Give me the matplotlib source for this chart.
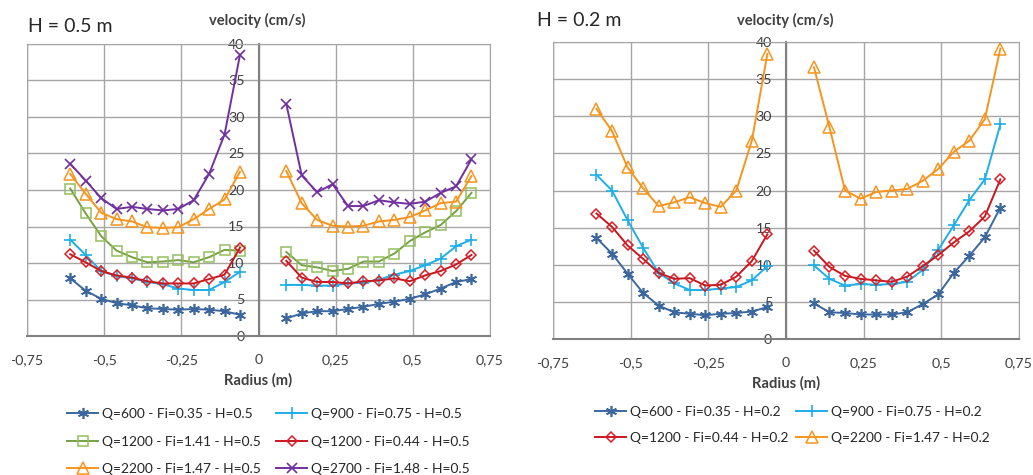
import numpy as np
import matplotlib
matplotlib.use("Agg")
import matplotlib.pyplot as plt
from matplotlib.lines import Line2D

plt.rcParams['font.family'] = ['Lato', 'DejaVu Sans']

# radius positions (m)
r_neg = [-0.61, -0.56, -0.51, -0.46, -0.41, -0.36, -0.31, -0.26, -0.21, -0.16, -0.11, -0.06]
r_pos = [0.09, 0.14, 0.19, 0.24, 0.29, 0.34, 0.39, 0.44, 0.49, 0.54, 0.59, 0.64, 0.69]

# H = 0.5 m, velocity (cm/s)
h05_q600_l = [7.9, 6.2, 5.1, 4.5, 4.2, 3.8, 3.7, 3.6, 3.7, 3.6, 3.4, 2.9]
h05_q600_r = [2.4, 3.1, 3.4, 3.4, 3.7, 4.0, 4.4, 4.7, 5.1, 5.7, 6.5, 7.4, 7.8]
h05_q900_l = [13.2, 11.1, 8.9, 8.2, 7.9, 7.4, 7.1, 6.5, 6.3, 6.3, 7.4, 8.8]
h05_q900_r = [7.0, 7.0, 6.9, 6.9, 7.2, 7.3, 7.7, 8.4, 8.9, 9.7, 10.6, 12.3, 13.2]
h05_q1200a_l = [20.2, 16.8, 13.7, 11.7, 10.8, 10.1, 10.2, 10.4, 10.1, 10.8, 11.8, 11.7]
h05_q1200a_r = [11.5, 9.7, 9.4, 8.9, 9.2, 10.2, 10.2, 11.3, 13.0, 14.2, 15.2, 17.1, 19.6]
h05_q1200b_l = [11.2, 10.1, 8.9, 8.3, 8.0, 7.5, 7.2, 7.2, 7.2, 7.8, 8.4, 12.1]
h05_q1200b_r = [10.3, 8.0, 7.4, 7.4, 7.2, 7.5, 7.6, 7.9, 7.5, 8.3, 8.9, 9.8, 11.1]
h05_q2200_l = [22.2, 19.5, 16.9, 16.0, 15.7, 14.9, 14.8, 14.9, 16.0, 17.4, 18.7, 22.5]
h05_q2200_r = [22.6, 18.2, 15.9, 15.1, 15.0, 15.1, 15.7, 15.9, 16.3, 17.2, 18.2, 18.4, 21.9]
h05_q2700_l = [23.6, 21.3, 18.9, 17.4, 17.7, 17.4, 17.2, 17.4, 18.6, 22.2, 27.6, 38.5]
h05_q2700_r = [31.8, 22.0, 19.7, 20.8, 17.8, 17.8, 18.6, 18.3, 18.1, 18.4, 19.6, 20.5, 24.2]

# H = 0.2 m, velocity (cm/s)
h02_q600_l = [13.6, 11.5, 8.8, 6.2, 4.5, 3.6, 3.4, 3.2, 3.4, 3.5, 3.7, 4.3]
h02_q600_r = [4.8, 3.6, 3.5, 3.3, 3.3, 3.3, 3.6, 4.7, 6.0, 8.9, 11.2, 13.7, 17.7]
h02_q900_l = [22.1, 20.0, 16.0, 12.3, 8.9, 7.5, 6.6, 6.6, 6.8, 7.0, 7.9, 9.8]
h02_q900_r = [9.9, 8.1, 7.2, 7.4, 7.3, 7.4, 7.7, 9.3, 12.0, 15.3, 18.7, 21.5, 28.9]
h02_q1200_l = [16.9, 15.1, 12.6, 10.8, 8.9, 8.1, 8.2, 7.2, 7.3, 8.4, 10.5, 14.1]
h02_q1200_r = [11.9, 9.7, 8.5, 8.1, 7.9, 7.7, 8.4, 9.8, 11.3, 13.0, 14.5, 16.5, 21.5]
h02_q2200_l = [31.0, 28.0, 23.1, 20.3, 17.9, 18.4, 19.1, 18.3, 17.8, 20.0, 26.7, 38.4]
h02_q2200_r = [36.6, 28.5, 20.0, 18.9, 19.8, 20.0, 20.2, 21.3, 22.9, 25.2, 26.7, 29.6, 39.1]

xtick_vals = [-0.75, -0.5, -0.25, 0, 0.25, 0.5, 0.75]
xtick_labels = ["-0,75", "-0,5", "-0,25", "0", "0,25", "0,5", "0,75"]

styles = {
    "q600": dict(color="#3B679E", marker=(6, 2, 0), ms=8, mew=1.2),
    "q900": dict(color="#1FAEE6", marker="+", ms=8, mew=1.2),
    "q1200a": dict(color="#77A043", marker="s", ms=7, mfc="none", mec="#92C05C", mew=1.1),
    "q1200b": dict(color="#C8161E", marker="D", ms=5.5, mfc="none", mec="#D81F27", mew=1.1),
    "q2200": dict(color="#F7941E", marker="^", ms=8, mfc="none", mew=1.1),
    "q2700": dict(color="#7030A0", marker="x", ms=7, mew=1.2),
}

W, H = 1033, 475
fig = plt.figure(figsize=(10.33, 4.75), dpi=100)
renderer = fig.canvas.get_renderer()


def fit_size(s, px, **kw):
    # font size that makes the string about px pixels wide
    t = fig.text(0, 0, s, fontsize=10, **kw)
    w = t.get_window_extent(renderer).width
    t.remove()
    return 10 * px / w


fs_tick = fit_size("-0,75", 33)
fs_leg = fit_size("Q=600 - Fi=0.35 - H=0.5", 150)
fs_title = fit_size("H = 0.5 m", 84)
fs_bold = fit_size("velocity (cm/s)", 97, fontweight="bold")

ax1 = fig.add_axes([27 / W, 1 - 336 / H, 463 / W, 292 / H])
ax2 = fig.add_axes([553 / W, 1 - 339 / H, 466 / W, 297 / H])


def draw(ax, series):
    entries = []
    for key, label, left, right in series:
        st = styles[key]
        ax.plot(r_neg, left, lw=1.4, **st)
        ax.plot(r_pos, right, lw=1.4, **st)
        entries.append((key, label))
    return entries


def setup(ax):
    ax.set_xlim(-0.75, 0.75)
    ax.set_ylim(0, 40)
    ax.set_xticks(xtick_vals)
    ax.set_xticklabels(xtick_labels)
    ax.set_yticks(range(0, 41, 5))
    ax.grid(True, color="#A6A6A6", lw=1.0)
    ax.set_axisbelow(True)
    for s in ax.spines.values():
        s.set_color("#A6A6A6")
    ax.spines['left'].set_position(('data', 0))
    ax.spines['left'].set_color("#808080")
    ax.spines['left'].set_linewidth(1.5)
    ax.spines['bottom'].set_color("#808080")
    ax.spines['bottom'].set_linewidth(1.5)
    ax.tick_params(length=0, labelsize=fs_tick, labelcolor="#404040")
    ax.tick_params(axis='x', pad=13)
    ax.tick_params(axis='y', pad=10)
    ax.set_xlabel("Radius (m)", fontsize=fs_bold, fontweight="bold", color="#404040", labelpad=5)
    ax.axvline(-0.75, color="#A6A6A6", lw=1.0)


e1 = draw(ax1, [
    ("q600", "Q=600 - Fi=0.35 - H=0.5", h05_q600_l, h05_q600_r),
    ("q900", "Q=900 - Fi=0.75 - H=0.5", h05_q900_l, h05_q900_r),
    ("q1200a", "Q=1200 - Fi=1.41 - H=0.5", h05_q1200a_l, h05_q1200a_r),
    ("q1200b", "Q=1200 - Fi=0.44 - H=0.5", h05_q1200b_l, h05_q1200b_r),
    ("q2200", "Q=2200 - Fi=1.47 - H=0.5", h05_q2200_l, h05_q2200_r),
    ("q2700", "Q=2700 - Fi=1.48 - H=0.5", h05_q2700_l, h05_q2700_r),
])
e2 = draw(ax2, [
    ("q600", "Q=600 - Fi=0.35 - H=0.2", h02_q600_l, h02_q600_r),
    ("q900", "Q=900 - Fi=0.75 - H=0.2", h02_q900_l, h02_q900_r),
    ("q1200b", "Q=1200 - Fi=0.44 - H=0.2", h02_q1200_l, h02_q1200_r),
    ("q2200", "Q=2200 - Fi=1.47 - H=0.2", h02_q2200_l, h02_q2200_r),
])
setup(ax1)
setup(ax2)

# titles and y-axis labels
fig.text(28 / W, 1 - 26 / H, "H = 0.5 m", ha="left", va="center", fontsize=fs_title, color="#262626")
fig.text(537 / W, 1 - 20 / H, "H = 0.2 m", ha="left", va="center", fontsize=fs_title, color="#262626")
fig.text(257 / W, 1 - 20 / H, "velocity (cm/s)", ha="center", va="center",
         fontsize=fs_bold, fontweight="bold", color="#404040")
fig.text(785 / W, 1 - 20 / H, "velocity (cm/s)", ha="center", va="center",
         fontsize=fs_bold, fontweight="bold", color="#404040")


def legend(entries, cols, rows):
    # entries laid out row by row, like the spreadsheet legend
    for i, (key, label) in enumerate(entries):
        x0 = cols[i % 2]
        y = 1 - rows[i // 2] / H
        xs = [x0 / W, (x0 + 15.5) / W, (x0 + 31) / W]
        fig.add_artist(Line2D(xs, [y] * 3, transform=fig.transFigure, lw=1.4,
                              markevery=[1], **styles[key]))
        fig.text((x0 + 35) / W, y, label, ha="left", va="center_baseline",
                 fontsize=fs_leg, color="#262626")


legend(e1, [67, 276], [413, 441, 468])
legend(e2, [595, 796], [411, 437])

fig.savefig("out.png", dpi=100)
